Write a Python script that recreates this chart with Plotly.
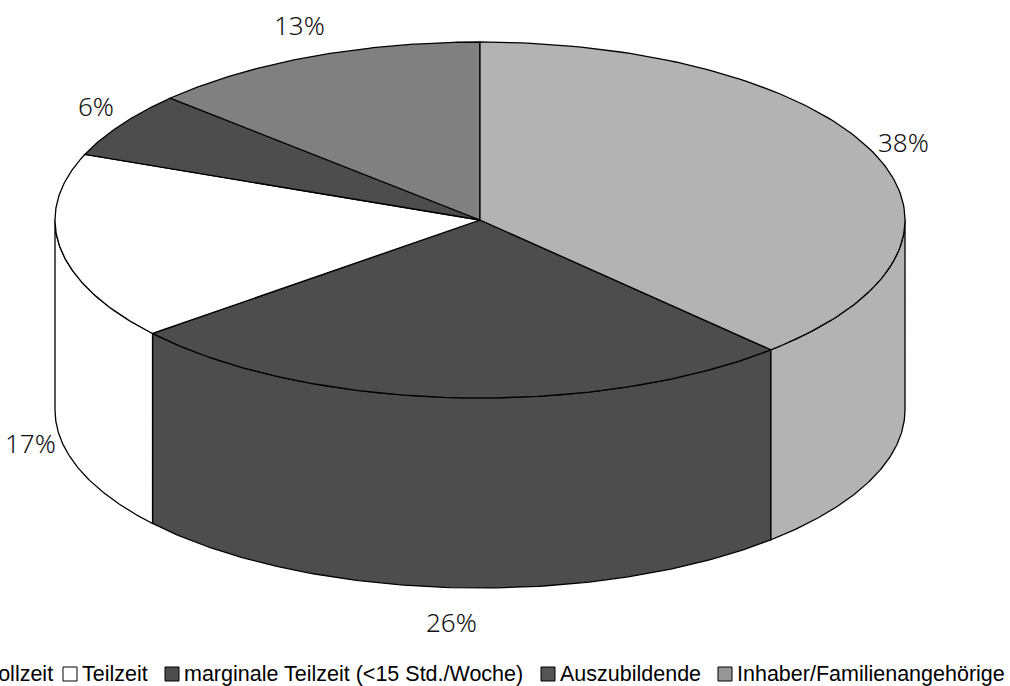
import numpy as np
import plotly.graph_objects as go

# ---- data ----
categories = ["Vollzeit", "Teilzeit", "marginale Teilzeit (<15 Std./Woche)",
              "Auszubildende", "Inhaber/Familienangehörige"]
values = [26, 17, 6, 13, 38]
slice_colors = ["#4d4d4d", "#ffffff", "#4d4d4d", "#808080", "#b3b3b3"]
legend_colors = ["#4d4d4d", "#ffffff", "#4d4d4d", "#555555", "#969696"]

# ---- layout / geometry constants ----
W, H = 1010, 686
CX, CY, RX, RY, DEPTH = 480, 220, 425, 178, 190
FIRST_ANGLE = 136.8            # angle of first slice, clockwise from 12 o'clock
LABEL_RX, LABEL_RY = 455, 212
LEGEND_Y = 674
legend_text_x = [-17, 80, 182, 558, 735]
LINE = dict(color="black", width=1.3)

def arc(a, b, dy=0, n=120):
    t = np.radians(np.linspace(a, b, n))
    return CX + RX * np.sin(t), CY - RY * np.cos(t) + dy

total = sum(values)
bounds = []
start = FIRST_ANGLE
for v in values:
    end = start + v / total * 360
    bounds.append((start, end))
    start = end

fig = go.Figure()

# side faces (only front half visible: 90..270 deg)
for (a, b), col in zip(bounds, slice_colors):
    for lo, hi in [(90, 270), (450, 630)]:
        s, e = max(a, lo), min(b, hi)
        if e > s:
            xt, yt = arc(s, e)
            xb, yb = arc(e, s, DEPTH)
            xs = np.concatenate([xt, xb, xt[:1]])
            ys = np.concatenate([yt, yb, yt[:1]])
            fig.add_trace(go.Scatter(x=xs, y=ys, mode="lines", fill="toself",
                                     fillcolor=col, line=LINE, hoverinfo="skip",
                                     showlegend=False))

# top faces
for (a, b), col in zip(bounds, slice_colors):
    xt, yt = arc(a, b)
    xs = np.concatenate([[CX], xt, [CX]])
    ys = np.concatenate([[CY], yt, [CY]])
    fig.add_trace(go.Scatter(x=xs, y=ys, mode="lines", fill="toself",
                             fillcolor=col, line=LINE, hoverinfo="skip",
                             showlegend=False))

# percentage labels
for (a, b), v in zip(bounds, values):
    m = np.radians((a + b) / 2)
    lx = CX + LABEL_RX * np.sin(m)
    ly = CY - LABEL_RY * np.cos(m) + (DEPTH if np.cos(m) < 0 else 0)
    fig.add_annotation(x=lx, y=ly, text=f"{v}%", showarrow=False,
                       xanchor="center", yanchor="middle",
                       font=dict(family="Noto Sans", size=26, color="#111111",
                                 weight=300))

# manual legend
fig.add_trace(go.Scatter(x=[tx - 10 for tx in legend_text_x],
                         y=[LEGEND_Y] * len(categories), mode="markers",
                         marker=dict(symbol="square", size=14, color=legend_colors,
                                     line=dict(color="black", width=1)),
                         hoverinfo="skip", showlegend=False, cliponaxis=False))
for tx, name in zip(legend_text_x, categories):
    fig.add_annotation(x=tx / W, xref="paper", y=LEGEND_Y, yref="y", text=name,
                       showarrow=False, xanchor="left", yanchor="middle",
                       font=dict(family="Liberation Sans", size=21.5, color="black"))

fig.update_layout(
    width=W, height=H, margin=dict(l=0, r=0, t=0, b=0),
    paper_bgcolor="white", plot_bgcolor="white",
    xaxis=dict(range=[0, W], visible=False, fixedrange=True),
    yaxis=dict(range=[H, 0], visible=False, fixedrange=True),
)

fig.write_html("out.html", config={"displayModeBar": False},
               post_script="document.body.style.margin='0';")
